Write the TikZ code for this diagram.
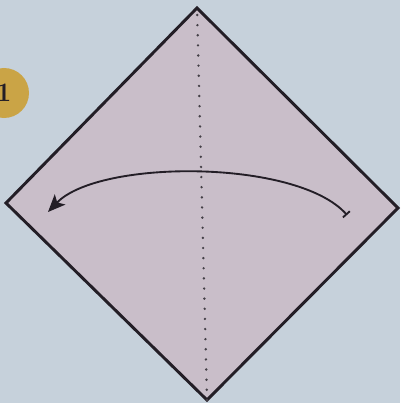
\documentclass[tikz,border=0pt]{standalone}
\usepackage{tikz}
\usetikzlibrary{arrows.meta}

\definecolor{bgblue}{RGB}{198,209,219}
\definecolor{paper}{RGB}{201,190,201}
\definecolor{badge}{RGB}{202,164,70}
\definecolor{ink}{RGB}{35,30,38}

\begin{document}
\begin{tikzpicture}[x=0.75pt,y=-0.75pt,
    sheet/.style={fill=paper,draw=ink,line width=2.2pt,line join=miter},
    crease/.style={ink!85,line width=2pt,line cap=round,dash pattern=on 0pt off 7.6pt},
    foldarrow/.style={ink,line width=1.4pt,{Bar[width=7pt]}-{Stealth[length=13pt,width=11pt,inset=3pt]}},
    stepnum/.style={circle,fill=badge,minimum size=50pt*0.75,inner sep=0pt,text=ink,font=\fontsize{20}{20}\selectfont\bfseries}]
        \fill[bgblue] (0,0) rectangle (400,403);
        \useasboundingbox (0,0) rectangle (400,403);
        \coordinate (T) at (197,8);
        \coordinate (R) at (398,208);
        \coordinate (B) at (207,400);
        \coordinate (L) at (6,203);
        \draw[sheet] (T) -- (R) -- (B) -- (L) -- cycle;
        \draw[crease] (T) ++(0.2,7) -- (B);
        \coordinate (start) at (347,215);
        \coordinate (tip) at (48,212);
        \draw[foldarrow] (start) .. controls (297,159) and (99,159) .. (tip);
        \node[stepnum] (one) at (4,93) {1};
\end{tikzpicture}
\end{document}
